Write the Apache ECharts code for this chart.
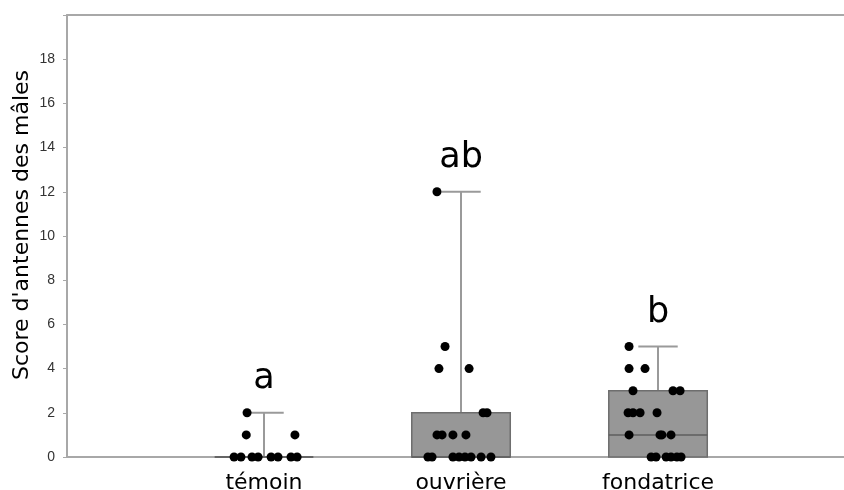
<!DOCTYPE html>
<html>
<head>
<meta charset="utf-8">
<script src="https://cdn.jsdelivr.net/npm/echarts@6/dist/echarts.min.js"></script>
<style>html,body{margin:0;padding:0;background:#fff}#c{width:844px;height:490px}</style>
</head>
<body>
<div id="c"></div>
<script>
const categories = ['témoin', 'ouvrière', 'fondatrice'];
const groupLetters = ['a', 'ab', 'b'];
// box stats: [min, q1, median, q3, max]
const boxStats = [
  [0, 0, 0, 0, 2],
  [0, 0, 0, 2, 12],
  [0, 0, 1, 3, 5]
];
const yTicks = [0, 2, 4, 6, 8, 10, 12, 14, 16, 18];
// individual observations (score) and horizontal jitter offsets (x units)
const temoinValues = [2, 1, 1, 0, 0, 0, 0, 0, 0, 0, 0];
const temoinJitter = [-0.086, -0.09, 0.157, -0.152, -0.117, -0.061, -0.030, 0.036, 0.071, 0.137, 0.168];
const ouvriereValues = [12, 5, 4, 4, 2, 2, 1, 1, 1, 1, 0, 0, 0, 0, 0, 0, 0, 0];
const ouvriereJitter = [-0.122, -0.081, -0.112, 0.041, 0.112, 0.132, -0.122, -0.096, -0.041, 0.025, -0.168, -0.147, -0.041, -0.010, 0.020, 0.051, 0.102, 0.152];
const fondatriceValues = [5, 4, 4, 3, 3, 3, 2, 2, 2, 2, 1, 1, 1, 1, 0, 0, 0, 0, 0, 0];
const fondatriceJitter = [-0.147, -0.147, -0.066, -0.127, 0.076, 0.112, -0.152, -0.127, -0.091, -0.005, -0.147, 0.010, 0.020, 0.066, -0.035, -0.010, 0.041, 0.066, 0.096, 0.117];

const groupValues = [temoinValues, ouvriereValues, fondatriceValues];
const groupJitter = [temoinJitter, ouvriereJitter, fondatriceJitter];
const points = [];
groupValues.forEach((vals, g) => {
  vals.forEach((v, i) => points.push([g + 1 + groupJitter[g][i], v]));
});
const boxData = boxStats.map((s, i) => [i + 1].concat(s));
const letterData = boxStats.map((s, i) => [i + 1, s[4], groupLetters[i]]);

const BOX_W = 0.5, CAP_W = 0.2;
const WIDE = 'DejaVu Sans, sans-serif';
const chart = echarts.init(document.getElementById('c'), null, {renderer: 'canvas'});
chart.setOption({
  animation: false,
  backgroundColor: '#ffffff',
  textStyle: {fontFamily: 'Liberation Sans, Arial, sans-serif'},
  grid: {left: 67, right: 0, top: 15, bottom: 33, containLabel: false, outerBoundsMode: 'none'},
  xAxis: [{
    type: 'value', min: 0, max: 3.944, interval: 1,
    axisLine: {show: true, lineStyle: {color: '#a8a8a8', width: 2}},
    axisTick: {show: false},
    splitLine: {show: false},
    axisLabel: {
      margin: 15, fontSize: 22, color: '#000', fontFamily: WIDE,
      formatter: v => (v >= 1 && v <= 3 && Math.abs(v - Math.round(v)) < 1e-6) ? categories[Math.round(v) - 1] : ''
    }
  }, {
    type: 'value', position: 'top', min: 0, max: 3.944,
    axisLine: {show: true, onZero: false, lineStyle: {color: '#a8a8a8', width: 2}},
    axisTick: {show: false}, axisLabel: {show: false}, splitLine: {show: false}
  }],
  yAxis: {
    type: 'value', min: 0, max: 20, interval: 2,
    name: "Score d'antennes des mâles",
    nameLocation: 'middle', nameGap: 34, nameMoveOverlap: false,
    nameTextStyle: {fontSize: 22, color: '#000', fontFamily: WIDE, padding: [0, 0, 0, 22]},
    axisLine: {show: true, lineStyle: {color: '#a8a8a8', width: 2}},
    axisTick: {show: true, length: 4, lineStyle: {color: '#a8a8a8'}},
    splitLine: {show: false},
    axisLabel: {
      fontSize: 14, color: '#333', margin: 12,
      formatter: v => yTicks.indexOf(v) >= 0 ? String(v) : ''
    }
  },
  series: [{
    type: 'custom',
    data: boxData,
    encode: {x: 0, y: [1, 2, 3, 4, 5]},
    renderItem: function (params, api) {
      const x = api.value(0);
      const mn = api.value(1), q1 = api.value(2), md = api.value(3), q3 = api.value(4), mx = api.value(5);
      const pL = api.coord([x - BOX_W / 2, q3]);
      const pR = api.coord([x + BOX_W / 2, q1]);
      const cL = api.coord([x - CAP_W / 2, mx]);
      const cR = api.coord([x + CAP_W / 2, mx]);
      const pq3 = api.coord([x, q3]);
      const pmd = api.coord([x, md]);
      const pmin = api.coord([x, mn]);
      const pq1 = api.coord([x, q1]);
      const children = [];
      children.push({type: 'line', shape: {x1: pq3[0], y1: pq3[1], x2: pq3[0], y2: cL[1]}, style: {stroke: '#9a9a9a', lineWidth: 2}});
      children.push({type: 'line', shape: {x1: cL[0], y1: cL[1], x2: cR[0], y2: cR[1]}, style: {stroke: '#9a9a9a', lineWidth: 2}});
      if (mn < q1) {
        children.push({type: 'line', shape: {x1: pq1[0], y1: pq1[1], x2: pmin[0], y2: pmin[1]}, style: {stroke: '#9a9a9a', lineWidth: 2}});
      }
      children.push({type: 'rect', shape: {x: pL[0], y: pL[1], width: pR[0] - pL[0], height: pR[1] - pL[1]}, style: {fill: '#979797', stroke: '#6e6e6e', lineWidth: 1.5}});
      children.push({type: 'line', shape: {x1: pL[0], y1: pmd[1], x2: pR[0], y2: pmd[1]}, style: {stroke: '#5e5e5e', lineWidth: 1.5}});
      return {type: 'group', children: children};
    },
    z: 2
  }, {
    type: 'scatter',
    data: points,
    symbol: 'circle',
    symbolSize: 9,
    itemStyle: {color: '#000', opacity: 1},
    z: 5
  }, {
    type: 'scatter',
    data: letterData,
    symbolSize: 0,
    itemStyle: {opacity: 1},
    label: {
      show: true, position: 'top', distance: 16,
      formatter: p => p.value[2],
      fontSize: 35, color: '#000', opacity: 1, fontFamily: WIDE
    },
    z: 6
  }]
});
</script>
</body>
</html>
